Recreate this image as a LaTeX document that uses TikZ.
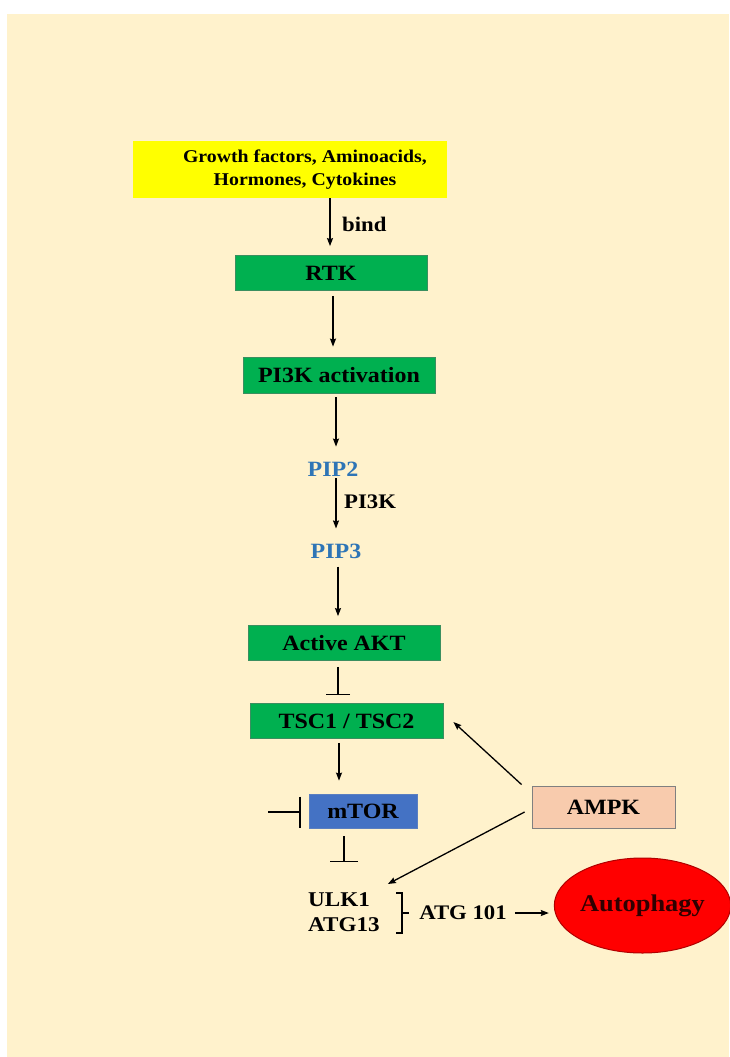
\documentclass[tikz,border=0pt]{standalone}
\usepackage{fontspec}
\setmainfont[FakeStretch=1.1]{Liberation Serif}
\usetikzlibrary{arrows.meta,shapes.geometric}
\definecolor{cream}{HTML}{FFF2CC}
\definecolor{boxgreen}{HTML}{00B050}
\definecolor{greenline}{HTML}{3A8F60}
\definecolor{mtorblue}{HTML}{4472C4}
\definecolor{mtorline}{HTML}{5B7FC0}
\definecolor{peach}{HTML}{F8CBAD}
\definecolor{pipblue}{HTML}{2E75B6}
\definecolor{redline}{HTML}{B00000}
\definecolor{autotext}{HTML}{300000}
\definecolor{yel}{HTML}{FFFF00}
\begin{document}
\begin{tikzpicture}[x=1pt,y=-1pt,
  every node/.style={font=\bfseries\fontsize{21.8}{26}\selectfont, inner sep=0pt},
  gbox/.style={draw=greenline, line width=0.8pt, fill=boxgreen, minimum width=192pt, minimum height=35pt},
  arr/.style={line width=1.3pt, -{Stealth[length=8pt,width=6pt,inset=1pt]}},
  inh/.style={line width=1.3pt, -{Bar[width=#1]}},
  inh/.default=24pt,
  lbl/.style={anchor=west, font=\bfseries\fontsize{20.7}{24}\selectfont}
]
\useasboundingbox (0,0) rectangle (729,1057);
\fill[cream] (7,14) rectangle (729,1057);

% nodes
\node[fill=yel, minimum width=314pt, minimum height=57pt, align=center,
      font=\bfseries\fontsize{18}{23}\selectfont] (src) at (290,169.5)
  {\hspace*{30pt}Growth factors, Aminoacids,\\\hspace*{30pt}Hormones, Cytokines};
\node[gbox] (rtk) at (331,273) {RTK};
\node[gbox, minimum height=36pt] (pi3k) at (339,375) {PI3K activation};
\node[text=pipblue] (pip2) at (333,469) {PIP2};
\node[text=pipblue] (pip3) at (336,551) {PIP3};
\node[gbox] (akt) at (344,643) {Active AKT};
\node[gbox, minimum width=193pt] (tsc) at (346.5,721) {TSC1 / TSC2};
\node[fill=mtorblue, draw=mtorline, line width=0.8pt, minimum width=108pt, minimum height=34pt] (mtor) at (363,811) {mTOR};
\node[fill=peach, draw=gray, line width=0.8pt, minimum width=143pt, minimum height=42pt] (ampk) at (603.5,807) {AMPK};
\node[align=left, anchor=north west, font=\bfseries\fontsize{21}{25}\selectfont] (ulk) at (308,892) {ULK1\\ATG13};
\node[font=\bfseries\fontsize{20.7}{24}\selectfont] (atg) at (463,913) {ATG 101};
\node[ellipse, fill=red, draw=redline, line width=1pt, minimum width=165pt, minimum height=95pt,
      text=autotext, font=\bfseries\fontsize{24}{28}\selectfont] (auto) at (642.5,905.5) {Autophagy};

% labels
\node[lbl] (bind) at (342,224) {bind};
\node[lbl] (pk) at (344,502) {PI3K};

% connectors
\draw[arr] ([xshift=40pt]src.south) -- ([xshift=-1pt,yshift=9pt]rtk.north);
\draw[arr] ([xshift=2pt,yshift=-5pt]rtk.south) -- ([xshift=-6pt,yshift=10pt]pi3k.north);
\draw[arr] ([xshift=-3pt,yshift=-4pt]pi3k.south) -- ([xshift=3pt,yshift=15pt]pip2.north);
\draw[arr] ([xshift=3pt,yshift=-2pt]pip2.south) -- ([yshift=15pt]pip3.north);
\draw[arr] ([xshift=2pt,yshift=-8pt]pip3.south) -- ([xshift=-6pt,yshift=9pt]akt.north);
\draw[inh] ([xshift=-6pt,yshift=-6pt]akt.south) -- ([xshift=-8.5pt,yshift=8pt]tsc.north);
\draw[arr] ([xshift=-7.5pt,yshift=-4pt]tsc.south) -- ([xshift=-24pt,yshift=13pt]mtor.north);
\coordinate (free) at (268,812);
\draw[inh=31pt] (free) -- ([xshift=-8pt,yshift=-1pt]mtor.west);
\draw[inh=28pt, shorten >=30pt] ([xshift=-19pt,yshift=-8pt]mtor.south) -- ([xshift=-19pt]mtor.south |- ulk.north);
\draw[arr] ([xshift=-10pt,yshift=1pt]ampk.north west) -- ([xshift=10pt,yshift=-1pt]tsc.east);
\draw[arr] ([xshift=-7pt,yshift=-5pt]ampk.west) -- ([xshift=8pt,yshift=8pt]ulk.north east);

% bracket
\draw[line width=1.2pt] (396,893) -- (402,893) -- (402,933) -- (396,933);
\draw[line width=1.2pt] (402,913) -- (409,913);

\draw[arr, shorten <=8pt, shorten >=5pt] (atg.east) -- (atg.east -| auto.west);
\end{tikzpicture}
\end{document}
